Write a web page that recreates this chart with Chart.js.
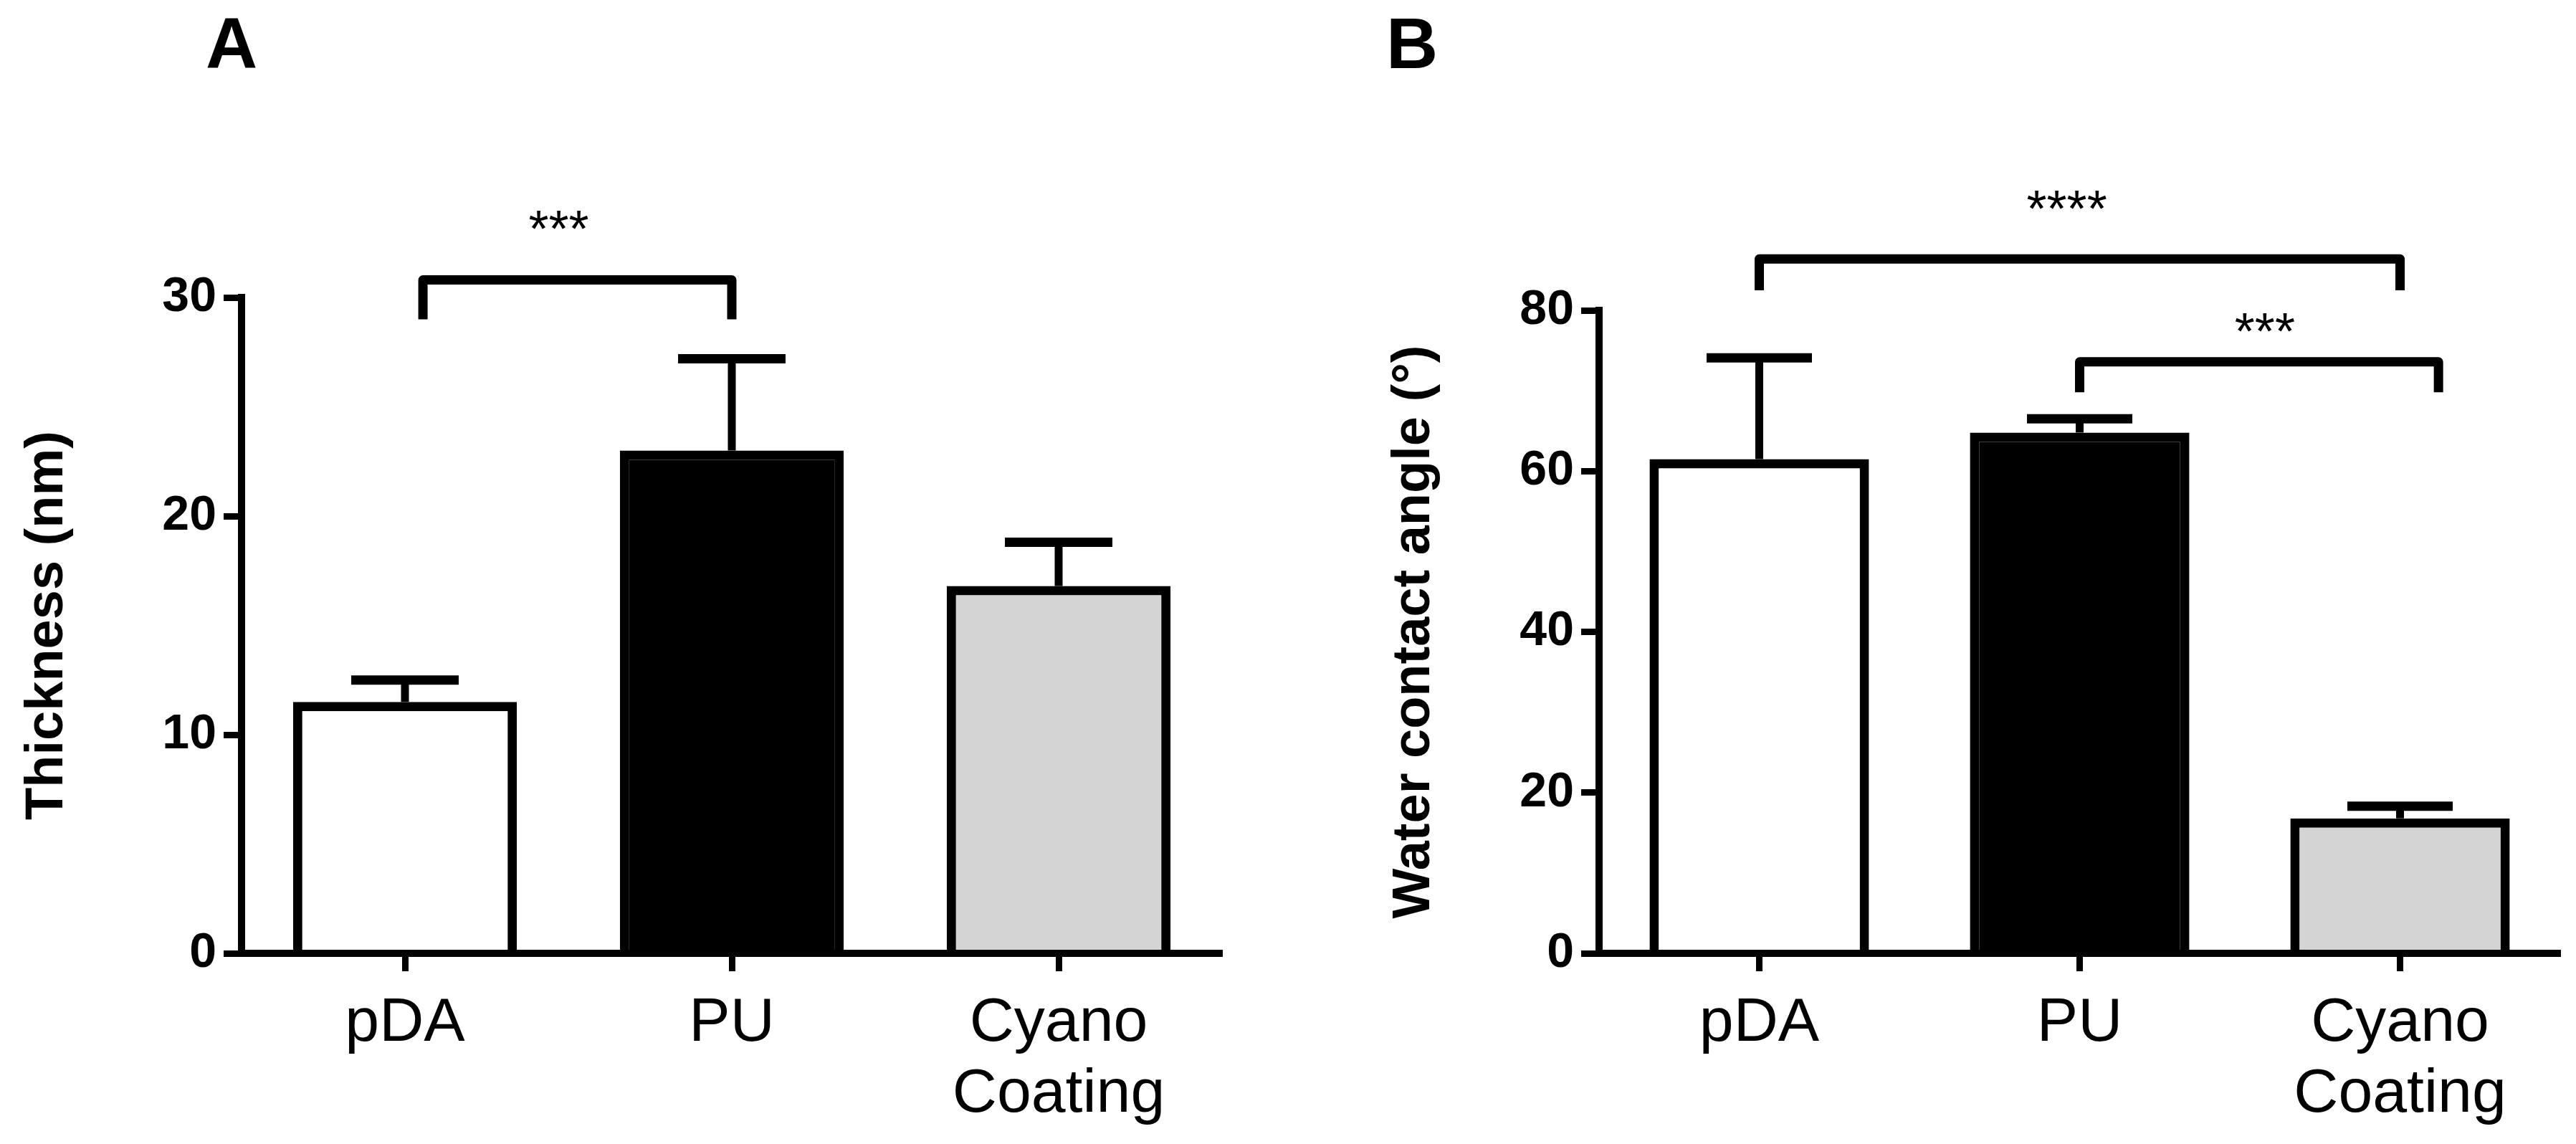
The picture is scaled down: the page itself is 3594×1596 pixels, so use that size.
<!DOCTYPE html>
<html>
<head>
<meta charset="utf-8">
<script src="https://cdn.jsdelivr.net/npm/chart.js@4.4.1/dist/chart.umd.min.js"></script>
<style>
  html, body { margin: 0; padding: 0; background: #fff; }
  #wrap { display: flex; width: 3594px; height: 1596px; }
  .panel { position: relative; width: 1797px; height: 1596px; }
</style>
</head>
<body>
<div id="wrap">
  <div class="panel"><canvas id="chartA"></canvas></div>
  <div class="panel"><canvas id="chartB"></canvas></div>
</div>
<script>
// Data - START
const categories = ['pDA', 'PU', ['Cyano', 'Coating']];
const barColors = ['#ffffff', '#000000', '#d4d4d4'];

const thicknessMean = [11.5, 23.0, 16.8];
const thicknessSd = [1.0, 4.2, 2.0];
const thicknessTicks = [0, 10, 20, 30];

const angleMean = [61.5, 64.8, 16.8];
const angleSd = [12.6, 1.7, 1.5];
const angleTicks = [0, 20, 40, 60, 80];

const thicknessSig = [{ from: 0, to: 1, text: '***' }];
const angleSig = [{ from: 0, to: 2, text: '****' }, { from: 1, to: 2, text: '***' }];
// Data - END

const FONT = 'Arial, "Liberation Sans", sans-serif';

// error bars (upper SD only, like Prism)
const errorBars = {
    id: 'errorBars',
    afterDatasetsDraw(chart, args, opts) {
        const ctx = chart.ctx;
        const y = chart.scales.y;
        const ds = chart.data.datasets[0];
        const meta = chart.getDatasetMeta(0);
        ctx.save();
        ctx.strokeStyle = '#000';
        meta.data.forEach((bar, i) => {
            const top = y.getPixelForValue(ds.data[i] + opts.sd[i]);
            ctx.lineWidth = 11;
            ctx.beginPath();
            ctx.moveTo(bar.x, bar.y);
            ctx.lineTo(bar.x, top);
            ctx.stroke();
            const half = bar.width * 0.24;
            ctx.lineWidth = 13;
            ctx.beginPath();
            ctx.moveTo(bar.x - half, top);
            ctx.lineTo(bar.x + half, top);
            ctx.stroke();
        });
        ctx.restore();
    }
};

// significance brackets + stars
const sigBrackets = {
    id: 'sigBrackets',
    afterDraw(chart, args, opts) {
        const ctx = chart.ctx;
        const x = chart.scales.x;
        const y = chart.scales.y;
        ctx.save();
        ctx.strokeStyle = '#000';
        ctx.fillStyle = '#000';
        ctx.lineWidth = 13;
        ctx.lineJoin = 'round';
        opts.pairs.forEach((p, i) => {
            const g = opts.geometry[i];
            const x1 = x.getPixelForValue(p.from + g.shiftFrom);
            const x2 = x.getPixelForValue(p.to + g.shiftTo);
            const yTop = y.getPixelForValue(g.top);
            const yLeg = y.getPixelForValue(g.leg);
            ctx.beginPath();
            ctx.moveTo(x1, yLeg);
            ctx.lineTo(x1, yTop);
            ctx.lineTo(x2, yTop);
            ctx.lineTo(x2, yLeg);
            ctx.stroke();
            const mid = x.getPixelForValue((p.from + g.shiftFrom + p.to + g.shiftTo) / 2 + g.labelShift);
            ctx.font = '72px ' + FONT;
            ctx.textAlign = 'center';
            ctx.textBaseline = 'middle';
            ctx.fillText(p.text, mid, y.getPixelForValue(g.label) + 16);
        });
        ctx.restore();
    }
};

// panel letter
const panelLetter = {
    id: 'panelLetter',
    afterDraw(chart, args, opts) {
        const ctx = chart.ctx;
        ctx.save();
        ctx.fillStyle = '#000';
        ctx.font = 'bold 100px ' + FONT;
        ctx.textAlign = 'center';
        ctx.textBaseline = 'alphabetic';
        ctx.fillText(opts.text, opts.x, opts.y);
        ctx.restore();
    }
};

function makeChart(id, means, sds, tickValues, yTitle, sig, geometry, letter, layout) {
    const config = {
        type: 'bar',
        data: {
            labels: categories,
            datasets: [{
                data: means,
                backgroundColor: barColors,
                borderColor: '#000',
                borderWidth: 13,
                borderSkipped: 'start',
                barPercentage: 0.685,
                categoryPercentage: 1.0
            }]
        },
        options: {
            responsive: true,
            maintainAspectRatio: false,
            animation: false,
            layout: { padding: layout.padding },
            plugins: {
                legend: { display: false },
                tooltip: { enabled: false },
                errorBars: { sd: sds },
                sigBrackets: { pairs: sig, geometry: geometry },
                panelLetter: letter
            },
            scales: {
                x: {
                    grid: {
                        display: true, drawOnChartArea: false, drawTicks: true, offset: false,
                        tickLength: 25, tickWidth: 9, tickColor: '#000'
                    },
                    border: { display: true, color: '#000', width: 10, z: 1 },
                    ticks: {
                        color: '#000', padding: 23, maxRotation: 0, autoSkip: false,
                        font: { family: FONT, size: 86, lineHeight: 1.16 }
                    },
                    afterFit: s => { s.height = 266; }
                },
                y: {
                    min: tickValues[0],
                    max: tickValues[tickValues.length - 1],
                    afterBuildTicks: s => { s.ticks = tickValues.map(v => ({ value: v })); },
                    grid: {
                        display: true, drawOnChartArea: false, drawTicks: true,
                        tickLength: 25, tickWidth: 9, tickColor: '#000'
                    },
                    border: { display: true, color: '#000', width: 10, z: 1 },
                    ticks: {
                        color: '#000', padding: 10,
                        font: { family: FONT, size: 68, weight: 'bold' }
                    },
                    title: {
                        display: true, text: yTitle, color: '#000',
                        padding: { top: 22, bottom: 0 },
                        font: { family: FONT, size: 74, weight: 'bold', lineHeight: 1.2 }
                    },
                    afterFit: s => { s.width = layout.yWidth; }
                }
            }
        },
        plugins: [errorBars, sigBrackets, panelLetter]
    };
    return new Chart(id, config);
}

// Thickness - START
makeChart('chartA', thicknessMean, thicknessSd, thicknessTicks, 'Thickness (nm)',
    thicknessSig,
    [{ top: 30.8, leg: 29.0, label: 33.5, shiftFrom: 0.055, shiftTo: 0, labelShift: -0.057 }],
    { text: 'A', x: 323, y: 95 },
    { padding: { top: 415, right: 92, left: 0, bottom: 0 }, yWidth: 337 });
// Thickness - END

// Water contact angle - START
makeChart('chartB', angleMean, angleSd, angleTicks, 'Water contact angle (°)',
    angleSig,
    [{ top: 86.4, leg: 82.5, label: 93.6, shiftFrom: 0, shiftTo: 0, labelShift: -0.04 },
     { top: 73.6, leg: 69.8, label: 78.4, shiftFrom: 0, shiftTo: 0.12, labelShift: 0.018 }],
    { text: 'B', x: 173, y: 95 },
    { padding: { top: 433, right: 22, left: 110, bottom: 0 }, yWidth: 324 });
// Water contact angle - END
</script>
</body>
</html>
